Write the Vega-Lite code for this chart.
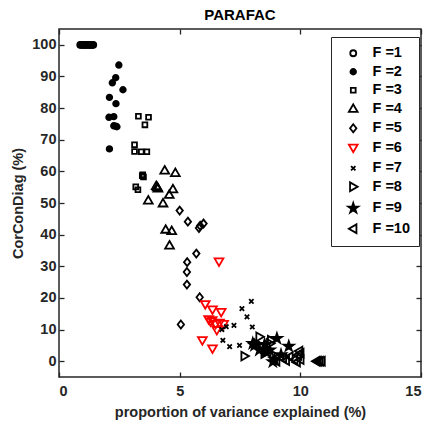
{
  "$schema": "https://vega.github.io/schema/vega-lite/v6.json",
  "width": 362,
  "height": 348,
  "autosize": "none",
  "padding": {"left": 59, "top": 29, "right": 9, "bottom": 45},
  "background": "white",
  "title": {"text": "PARAFAC", "fontSize": 15, "font": "Liberation Sans", "fontWeight": "bold", "color": "black", "offset": 5},
  "config": {
    "view": {"stroke": "#262626", "strokeWidth": 1.5},
    "axis": {"grid": false, "domain": false, "tickColor": "#262626", "tickWidth": 1.3, "labelFont": "Liberation Sans", "labelFontWeight": "bold", "labelFontSize": 14.5, "labelColor": "#262626", "titleFont": "Liberation Sans", "titleFontWeight": "bold", "titleFontSize": 14.5, "titleColor": "#262626"}
  },
  "data": {"values": [
    {"F":1,"x":0.88,"y":100},{"F":1,"x":0.93,"y":100},{"F":1,"x":0.98,"y":100},{"F":1,"x":1.03,"y":100},{"F":1,"x":1.08,"y":100},{"F":1,"x":1.13,"y":100},{"F":1,"x":1.18,"y":100},{"F":1,"x":1.23,"y":100},{"F":1,"x":1.28,"y":100},{"F":1,"x":1.33,"y":100},{"F":1,"x":1.38,"y":100},{"F":1,"x":1.42,"y":100},
    {"F":2,"x":2.48,"y":93.6},{"F":2,"x":2.35,"y":89.6},{"F":2,"x":2.21,"y":88.0},{"F":2,"x":2.65,"y":85.8},{"F":2,"x":2.09,"y":83.4},{"F":2,"x":2.36,"y":81.4},{"F":2,"x":2.07,"y":77.1},{"F":2,"x":2.27,"y":77.3},{"F":2,"x":2.27,"y":74.4},{"F":2,"x":2.40,"y":74.1},{"F":2,"x":2.35,"y":74.3},{"F":2,"x":2.09,"y":67.1},
    {"F":3,"x":3.29,"y":77.4},{"F":3,"x":3.71,"y":77.1},{"F":3,"x":3.56,"y":74.7},{"F":3,"x":3.13,"y":68.4},{"F":3,"x":3.13,"y":66.3},{"F":3,"x":3.41,"y":66.2},{"F":3,"x":3.64,"y":66.2},{"F":3,"x":3.45,"y":58.6},{"F":3,"x":3.50,"y":58.2},{"F":3,"x":3.47,"y":58.9},{"F":3,"x":3.18,"y":55.1},{"F":3,"x":3.27,"y":54.2},
    {"F":4,"x":4.38,"y":60.3},{"F":4,"x":4.82,"y":59.5},{"F":4,"x":4.03,"y":55.4},{"F":4,"x":4.10,"y":54.6},{"F":4,"x":4.07,"y":55.0},{"F":4,"x":4.72,"y":54.4},{"F":4,"x":4.57,"y":52.6},{"F":4,"x":3.70,"y":50.8},{"F":4,"x":4.31,"y":49.9},{"F":4,"x":4.42,"y":41.6},{"F":4,"x":4.67,"y":41.2},{"F":4,"x":4.58,"y":36.6},
    {"F":5,"x":5.00,"y":47.6},{"F":5,"x":5.34,"y":44.1},{"F":5,"x":5.80,"y":42.1},{"F":5,"x":5.85,"y":42.8},{"F":5,"x":5.99,"y":43.5},{"F":5,"x":5.69,"y":34.0},{"F":5,"x":5.31,"y":31.3},{"F":5,"x":5.30,"y":28.2},{"F":5,"x":5.30,"y":24.2},{"F":5,"x":5.83,"y":20.2},{"F":5,"x":5.05,"y":11.6},
    {"F":6,"x":6.63,"y":31.5},{"F":6,"x":6.06,"y":18.0},{"F":6,"x":6.36,"y":16.3},{"F":6,"x":6.72,"y":15.5},{"F":6,"x":6.20,"y":13.2},{"F":6,"x":6.35,"y":12.9},{"F":6,"x":6.28,"y":12.5},{"F":6,"x":6.65,"y":12.1},{"F":6,"x":6.82,"y":11.7},{"F":6,"x":6.49,"y":11.7},{"F":6,"x":6.54,"y":9.8},{"F":6,"x":5.94,"y":6.6},{"F":6,"x":6.36,"y":4.0},
    {"F":7,"x":7.97,"y":18.9},{"F":7,"x":7.58,"y":16.6},{"F":7,"x":7.79,"y":14.0},{"F":7,"x":8.01,"y":10.8},{"F":7,"x":7.25,"y":11.3},{"F":7,"x":6.93,"y":10.9},{"F":7,"x":6.75,"y":10.0},{"F":7,"x":6.79,"y":6.6},{"F":7,"x":7.07,"y":4.6},{"F":7,"x":7.48,"y":5.0},
    {"F":8,"x":8.31,"y":7.7},{"F":8,"x":7.69,"y":1.6},{"F":8,"x":8.59,"y":3.5},{"F":8,"x":8.79,"y":6.6},{"F":8,"x":8.52,"y":2.4},{"F":8,"x":8.75,"y":5.6},{"F":8,"x":8.20,"y":5.5},{"F":8,"x":8.45,"y":4.5},{"F":8,"x":8.90,"y":2.0},
    {"F":9,"x":9.03,"y":7.2},{"F":9,"x":9.52,"y":4.7},{"F":9,"x":8.93,"y":0.6},{"F":9,"x":8.03,"y":5.6},{"F":9,"x":8.52,"y":5.3},{"F":9,"x":8.10,"y":5.0},{"F":9,"x":8.73,"y":3.5},{"F":9,"x":8.59,"y":2.9},{"F":9,"x":8.86,"y":-0.2},{"F":9,"x":8.30,"y":3.5},{"F":9,"x":9.20,"y":2.0},
    {"F":10,"x":10.66,"y":0},{"F":10,"x":10.72,"y":0},{"F":10,"x":10.80,"y":0},{"F":10,"x":10.88,"y":0},{"F":10,"x":9.90,"y":1.9},{"F":10,"x":9.95,"y":3.2},{"F":10,"x":9.55,"y":1.4},{"F":10,"x":9.28,"y":0.9},{"F":10,"x":9.75,"y":0.5},{"F":10,"x":10.00,"y":2.5},{"F":10,"x":10.00,"y":0.5},{"F":10,"x":9.00,"y":0.0},{"F":10,"x":9.40,"y":0.2},{"F":10,"x":9.85,"y":-0.3}
  ]},
  "layer": [
    {
      "mark": {"type": "point", "size": 64, "strokeWidth": 1.8, "opacity": 1},
      "encoding": {
        "x": {"field": "x", "type": "quantitative", "scale": {"domain": [0, 15], "nice": false, "zero": false},
              "axis": {"orient": "bottom", "values": [0, 5, 10, 15], "tickSize": -5, "labelPadding": 12, "title": "proportion of variance explained (%)", "titlePadding": 8}},
        "y": {"field": "y", "type": "quantitative", "scale": {"domain": [-5, 105], "nice": false, "zero": false},
              "axis": {"orient": "left", "values": [0,10,20,30,40,50,60,70,80,90,100], "tickSize": -5, "labelPadding": 8, "title": "CorConDiag (%)", "titlePadding": 6}},
        "shape": {"field": "F", "type": "nominal",
          "scale": {"domain": [1,2,3,4,5,6,7,8,9,10],
            "range": [
              "M-0.75,0A0.75,0.75,0,1,0,0.75,0A0.75,0.75,0,1,0,-0.75,0Z",
              "M-0.7,0A0.7,0.7,0,1,0,0.7,0A0.7,0.7,0,1,0,-0.7,0Z",
              "M-0.6,-0.6H0.6V0.6H-0.6Z",
              "M0,-1.1L1.1,0.8L-1.1,0.8Z",
              "M0,-1L0.8,0L0,1L-0.8,0Z",
              "M-1.1,-0.8L1.1,-0.8L0,1.1Z",
              "M-0.55,-0.55L0.55,0.55M-0.55,0.55L0.55,-0.55",
              "M-0.8,-1.1L1.1,0L-0.8,1.1Z",
              "M0,-1.3L0.29,-0.4L1.24,-0.4L0.47,0.15L0.76,1.05L0,0.5L-0.76,1.05L-0.47,0.15L-1.24,-0.4L-0.29,-0.4Z",
              "M0.8,-1.1L-1.1,0L0.8,1.1Z"
            ]},
          "legend": {"orient": "none", "legendX": 272, "legendY": 8, "title": null, "strokeColor": "#262626", "fillColor": "white", "padding": 9, "symbolOffset": 6, "labelOffset": 12, "rowPadding": 3.5, "labelFont": "Liberation Sans", "labelFontWeight": "bold", "labelFontSize": 14.5, "labelColor": "black", "symbolSize": 64, "symbolStrokeWidth": 1.8, "labelExpr": "'F =' + datum.label"}},
        "stroke": {"field": "F", "type": "nominal",
          "scale": {"domain": [1,2,3,4,5,6,7,8,9,10], "range": ["black","black","black","black","black","red","black","black","black","black"]},
          "legend": {"orient": "none", "legendX": 272, "legendY": 8, "title": null, "labelExpr": "'F =' + datum.label"}},
        "fill": {"field": "F", "type": "nominal",
          "scale": {"domain": [1,2,3,4,5,6,7,8,9,10], "range": ["transparent","black","transparent","transparent","transparent","transparent","black","transparent","black","transparent"]},
          "legend": {"orient": "none", "legendX": 272, "legendY": 8, "title": null, "labelExpr": "'F =' + datum.label"}}
      }
    },
    {
      "mark": {"type": "point", "opacity": 0},
      "encoding": {
        "x": {"field": "x", "type": "quantitative", "scale": {"domain": [0, 15], "nice": false, "zero": false},
              "axis": {"orient": "top", "values": [0, 5, 10, 15], "tickSize": -5, "labels": false, "title": null}},
        "y": {"field": "y", "type": "quantitative", "scale": {"domain": [-5, 105], "nice": false, "zero": false},
              "axis": {"orient": "right", "values": [0,10,20,30,40,50,60,70,80,90,100], "tickSize": -5, "labels": false, "title": null}}
      }
    }
  ],
  "resolve": {"axis": {"x": "independent", "y": "independent"}}
}
